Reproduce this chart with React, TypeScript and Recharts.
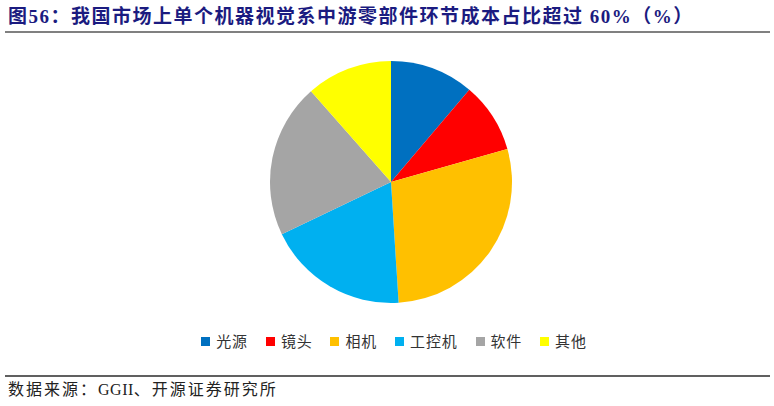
import React from "react";
import { PieChart, Pie, Cell, Legend } from "recharts";

const categories = ["光源", "镜头", "相机", "工控机", "软件", "其他"];
const shares = [11.2, 9.4, 28.4, 18.9, 20.6, 11.5];
const colors = ["#0070C0", "#FF0000", "#FFC000", "#00B0F0", "#A5A5A5", "#FFFF00"];

const titleText = "图56：我国市场上单个机器视觉系中游零部件环节成本占比超过 60%（%）";
const sourceParts = ["数据来源：", "GGII", "、开源证券研究所"];

const data = categories.map((name, i) => ({ name, value: shares[i] }));

const serif = '"Liberation Serif", "Times New Roman", "Noto Sans CJK SC", serif';

function LegendContent() {
  return (
    <div
      style={{
        display: "flex",
        justifyContent: "center",
        alignItems: "center",
        gap: 18,
        fontFamily: '"Noto Sans CJK SC", sans-serif',
        fontSize: 15,
        color: "#333",
      }}
    >
      {categories.map((c, i) => (
        <div key={c} style={{ display: "flex", alignItems: "center" }}>
          <span
            style={{
              display: "inline-block",
              width: 9,
              height: 9,
              background: colors[i],
              marginRight: 6,
            }}
          />
          <span style={{ letterSpacing: 0.8, lineHeight: "18px" }}>{c}</span>
        </div>
      ))}
    </div>
  );
}

export default function App() {
  return (
    <div
      style={{
        position: "absolute",
        left: 0,
        top: 0,
        width: 774,
        height: 406,
        background: "#fff",
        overflow: "hidden",
      }}
    >
      <div
        style={{
          position: "absolute",
          left: 8,
          top: 5,
          fontFamily: serif,
          fontWeight: 700,
          fontSize: 19,
          letterSpacing: 1.5,
          color: "#1B1B80",
          whiteSpace: "nowrap",
          lineHeight: "24px",
        }}
      >
        {titleText}
      </div>
      <div
        style={{
          position: "absolute",
          left: 5,
          top: 31,
          width: 765,
          height: 2,
          background: "#808080",
        }}
      />
      <div style={{ position: "absolute", left: 0, top: 0 }}>
        <PieChart
          width={774}
          height={406}
          margin={{ top: 0, right: 0, bottom: 0, left: 0 }}
        >
          <Pie
            data={data}
            dataKey="value"
            nameKey="name"
            cx={391}
            cy={182}
            outerRadius={121}
            innerRadius={0}
            startAngle={90}
            endAngle={-270}
            stroke="none"
            isAnimationActive={false}
          >
            {data.map((d, i) => (
              <Cell key={d.name} fill={colors[i]} />
            ))}
          </Pie>
          <Legend
            content={<LegendContent />}
            verticalAlign="bottom"
            wrapperStyle={{ top: 332, bottom: "auto", left: 0, width: 788 }}
          />
        </PieChart>
      </div>
      <div
        style={{
          position: "absolute",
          left: 5,
          top: 375,
          width: 765,
          height: 1.5,
          background: "#606060",
        }}
      />
      <div
        style={{
          position: "absolute",
          left: 8,
          top: 380,
          fontFamily: serif,
          fontSize: 16,
          color: "#222",
          whiteSpace: "nowrap",
          lineHeight: "20px",
        }}
      >
        <span style={{ letterSpacing: 2 }}>{sourceParts[0]}</span>
        <span style={{ letterSpacing: 0.5 }}>{sourceParts[1]}</span>
        <span style={{ letterSpacing: 2 }}>{sourceParts[2]}</span>
      </div>
    </div>
  );
}
